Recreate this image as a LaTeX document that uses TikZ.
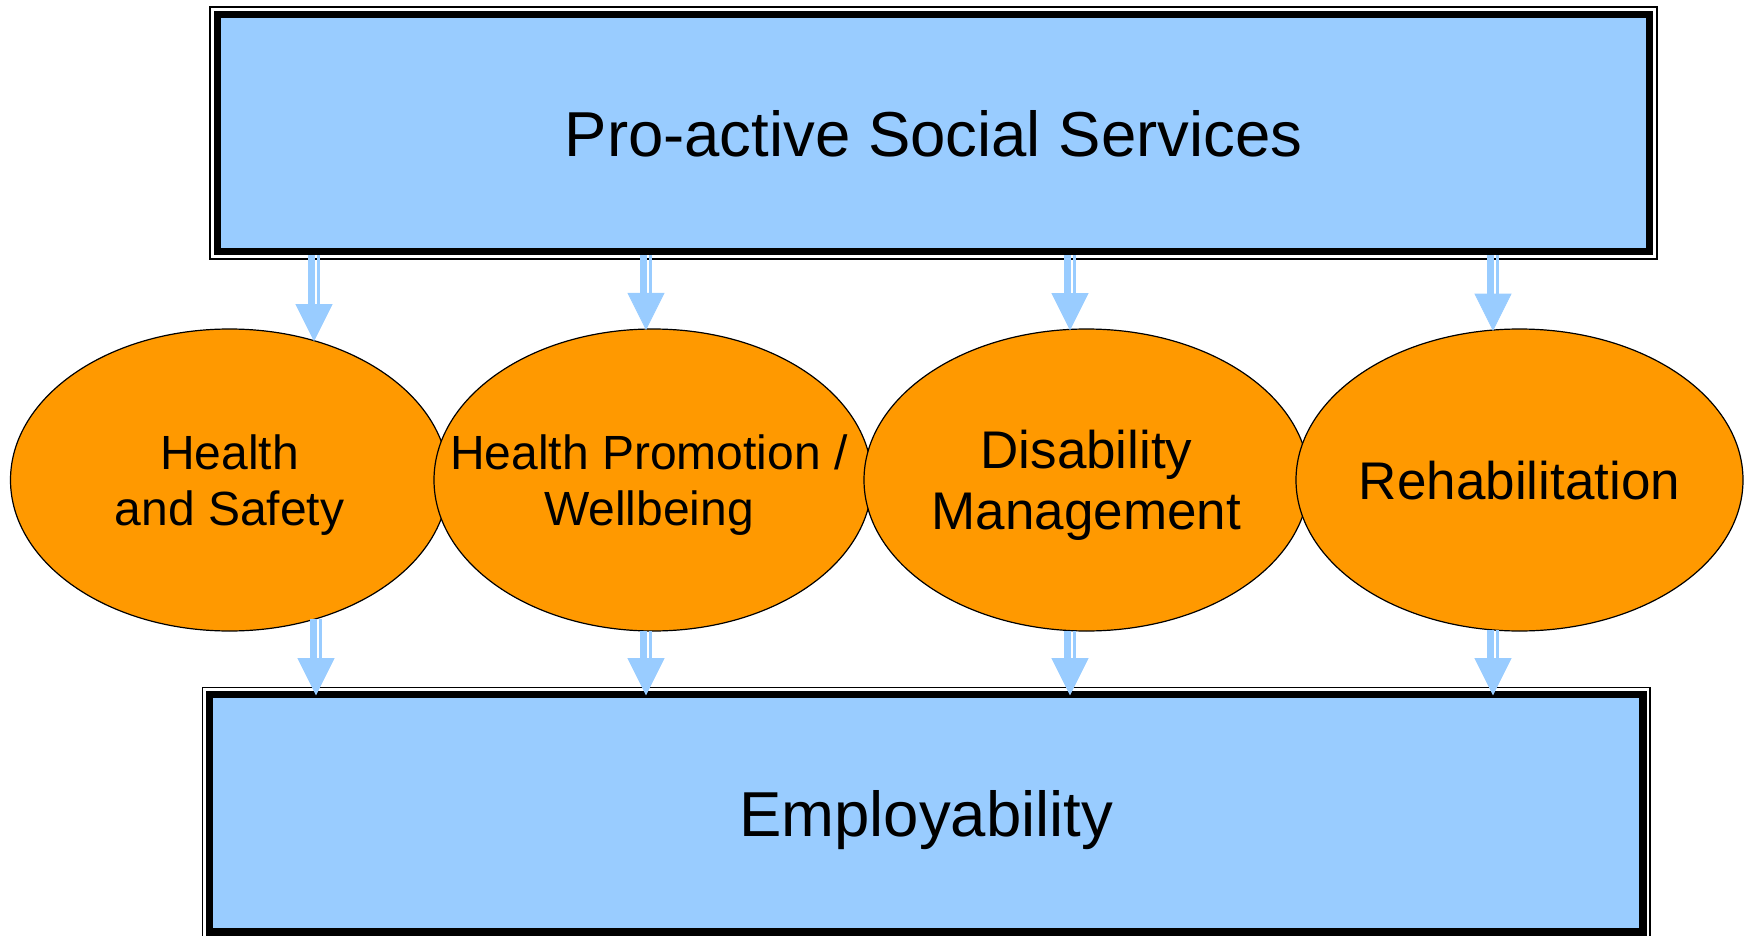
\documentclass[tikz,border=0pt]{standalone}
\usepackage{fontspec}
\setmainfont{Liberation Sans}
\usetikzlibrary{calc,shapes.geometric}
\definecolor{boxblue}{HTML}{99CCFF}
\definecolor{ovalorange}{HTML}{FF9900}

% Down arrow with a thick/thin split shaft and a triangular head.
% #1 = start of the shaft, #2 = tip of the head (same x).
\newcommand{\flowarrow}[2]{%
  \draw[arrowblue, line width=3.75pt] ($(#1)+(-2.5,0)$) -- ($(#2)+(-2.5,-35)$);
  \draw[arrowblue, line width=1.5pt] ($(#1)+(4.5,0)$) -- ($(#2)+(4.5,-35)$);
  \fill[arrowblue] ($(#2)+(-18,-36)$) -- ($(#2)+(18,-36)$) -- (#2) -- cycle;
}

\begin{document}
\begin{tikzpicture}[x=0.5pt,y=-0.5pt,
  mainbox/.style={rectangle, draw=black, fill=boxblue, line width=3.75pt,
    inner sep=0pt, outer sep=0pt, text depth=0pt,
    font=\fontsize{31.75pt}{38pt}\selectfont},
  frameline/.style={draw=black, line width=0.6pt},
  oval/.style={ellipse, draw=black, line width=0.6pt, fill=ovalorange,
    minimum width=219pt, minimum height=151pt, inner sep=0pt, outer sep=0pt},
  ovaltext/.style={align=center, text depth=0pt, inner sep=0pt},
  smalltext/.style={ovaltext, font=\fontsize{24pt}{28pt}\selectfont},
  largetext/.style={ovaltext, font=\fontsize{26.5pt}{30.5pt}\selectfont},
  arrowblue/.style={draw=boxblue, fill=boxblue},
]
\useasboundingbox (0,0) rectangle (1744,936);

% Upper and lower boxes with their thin outer frames
\node[mainbox, minimum width=716pt, minimum height=118.5pt] (top) at (933.5,133)
  {Pro-active Social Services};
\draw[frameline] ($(top.north west)+(-7.5,-7.5)$) rectangle ($(top.south east)+(7.5,7.5)$);

\node[mainbox, minimum width=716.75pt, minimum height=118.75pt] (bottom) at (926.25,813.25)
  {Employability};
\draw[frameline] ($(bottom.north west)+(-7,-7)$) rectangle ($(bottom.south east)+(7,7)$);

% The four ovals
\node[oval] (e1) at (229.5,480) {};
\node[oval] (e2) at (653,480) {};
\node[oval, minimum width=222.5pt] (e3) at (1086.5,480) {};
\node[oval, minimum width=223.5pt] (e4) at (1519.5,480) {};

\node[smalltext] (e1t) at (e1.center) {Health\\and Safety};
\node[smalltext] (e2t) at ($(e2.center)+(-4,0)$) {Health Promotion /\\Wellbeing};
\node[largetext] (e3t) at (e3.center) {Disability\\Management};
\node[largetext] (e4t) at (e4.center) {Rehabilitation};

% Arrow end points: tips on the ovals' upper edges, tails on their lower edges
\coordinate (t1) at ($(e1.center)+(84.5,-139.5)$);
\coordinate (t2) at ($(e2.center)+(-7,-150.8)$);
\coordinate (t3) at ($(e3.center)+(-16.5,-150.6)$);
\coordinate (t4) at ($(e4.center)+(-26.5,-150)$);
\foreach \i in {1,...,4} {
  \coordinate (s\i) at ($(t\i |- top.south)+(0,3.75)$);
}

\coordinate (u1) at ($(e1.center)+(86.5,138.9)$);
\coordinate (u2) at ($(e2.center)+(-7,150.8)$);
\coordinate (u3) at ($(e3.center)+(-16.5,150.6)$);
\coordinate (u4) at ($(e4.center)+(-26.5,150)$);
\foreach \i in {1,...,4} {
  \coordinate (v\i) at (u\i |- bottom.north);
}

% Arrows from the upper box to the ovals, and from the ovals to the lower box
\foreach \i in {1,...,4} {
  \flowarrow{s\i}{t\i}
  \flowarrow{u\i}{v\i}
}
\end{tikzpicture}
\end{document}
